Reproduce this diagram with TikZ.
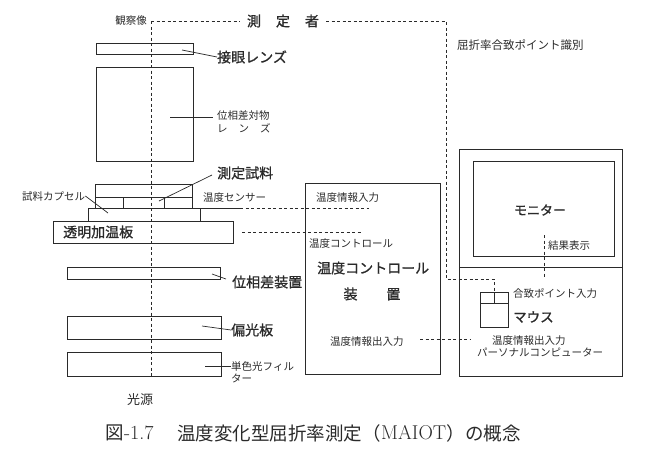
\documentclass[tikz,border=0pt]{standalone}
\usepackage{fontspec}
\newfontfamily\jp{Noto Sans CJK JP}
\newfontfamily\jpm[FakeBold=1.1]{Noto Sans CJK JP}
\definecolor{ink}{HTML}{2A2A2A}
\tikzset{
 box/.style={draw=ink, line width=0.8pt},
 dline/.style={draw=ink, line width=0.8pt, dash pattern=on 3pt off 2.5pt},
 lead/.style={draw=ink, line width=0.7pt},
 sm/.style={font=\jp\fontsize{10.5}{12}\selectfont, text=ink, inner sep=0pt, anchor=west},
 bg/.style={font=\jpm\fontsize{14}{16}\selectfont, text=ink, inner sep=0pt, anchor=west},
 captext/.style={font=\fontsize{20}{22}\selectfont, text=ink, inner sep=0pt, anchor=west},
 capjp/.style={font=\jp\fontsize{18.5}{22}\selectfont, text=ink, inner sep=0pt, anchor=west},
}
\begin{document}
\begin{tikzpicture}[x=1pt,y=-1pt]
\useasboundingbox (0,0) rectangle (650,461);
% optical axis and observer path
\coordinate (axtop) at (151,21);
\coordinate (axbot) at (151,378);
\draw[dline] (axtop) -- (axbot);
\node[sm, anchor=east] (obs) at (147,21) {観察像};
\node[bg, anchor=center, inner xsep=7pt] (observer) at (283,21) {測\hspace{15pt}定\hspace{15pt}者};
\draw[dline] (axtop) -- (observer.west);
\coordinate (c1) at (446,21);
\coordinate (c2) at (446,279);
\coordinate (c3) at (494,279);
\node[sm] (ident) at (457,45) {\fontsize{11.5}{13}\selectfont 屈折率合致ポイント識別};
% eyepiece
\draw[box] (96,43) rectangle (193,54);
\coordinate (eyeL) at (182,50);
\node[bg] (eye) at (217,57) {接眼レンズ};
\draw[lead] (eyeL) -- (eye.west);
% objective
\draw[box] (96,67) rectangle (193,161);
\coordinate (objL) at (170,117);
\node[sm] (obj1) at (217,116) {位相差対物};
\node[sm] (obj2) at (217,128) {レ\hspace{11pt}ン\hspace{11pt}ズ};
\draw[lead] (objL) -- (213,117);
% sample
\node[bg] (sample) at (217,173) {測定試料};
\draw[box] (95,184) rectangle (192,197);
\draw[box] (95,197) rectangle (192,208);
\draw[box] (123,197) -- (123,208) (164,197) -- (164,208);
\coordinate (sampL) at (159,201);
\draw[lead] (sampL) -- (212,175);
\node[sm] (caps) at (22,197) {試料カプセル};
\coordinate (capsL) at (108,213);
\draw[lead] (caps.east) ++(0,-1) -- (capsL);
\draw[box] (88,208) rectangle (200,221);
\node[sm] (sensor) at (203,198) {温度センサー};
\draw[box] (200,208) -- (240,208);
% heating plate
\draw[box] (53,221) rectangle (233,243);
\node[bg] (plate) at (63,232) {透明加温板};
% phase device
\draw[box] (67,267) rectangle (220,279);
\node[bg] (phase) at (232,282) {位相差装置};
\draw[lead] (212,274) -- (226,279);
% polarizer
\draw[box] (67,316) rectangle (221,339);
\node[bg] (pol) at (231,330) {偏光板};
\draw[lead] (202,326) -- (pol.west);
% filter
\draw[box] (67,352) rectangle (221,376);
\node[sm] (filt1) at (231,366) {単色光フィル};
\node[sm] (filt2) at (231,378) {ター};
\draw[lead] (205,366) -- (filt1.west);
\node[sm, anchor=center] (src) at (140,400) {\fontsize{13}{15}\selectfont 光源};
% temperature controller
\draw[box] (305,183) rectangle (440,374);
\node[sm] (tin) at (316,198) {温度情報入力};
\node[sm] (tctl) at (309,244) {温度コントロール};
\node[bg] (tc1) at (317,268) {温度コントロール};
\node[bg, anchor=center] (tc2) at (372,294) {装\hspace{29pt}置};
\node[sm] (tio) at (330,342) {温度情報出入力};
\draw[dline] (240,208) -- (369,208);
\draw[dline] (242,232) -- (362,232);
% PC
\draw[box] (459,149) rectangle (622,376);
\draw[box] (459,267) -- (622,267);
\draw[box] (473,161) rectangle (614,256);
\node[bg, anchor=center] (mon) at (540,210) {\fontsize{13}{15}\selectfont モニター};
\coordinate (resT) at (544,235);
\coordinate (resB) at (544,277);
\draw[dline] (resT) -- (resB);
\node[sm] (res) at (548,246) {結果表示};
\node[sm] (pin) at (513,293) {合致ポイント入力};
\draw[box] (480,292) rectangle (508,327);
\draw[box] (480,303) -- (508,303);
\coordinate (mtop) at (494,292);
\draw[box] (mtop) -- (494,303);
\node[bg] (mouse) at (513,317) {\fontsize{13.5}{15}\selectfont マウス};
\node[sm] (pio) at (492,341) {温度情報出入力};
\node[sm] (pc) at (477,352) {パーソナルコンピューター};
\draw[dline] (420,339) -- (470,339);
\draw[dline] (observer.east) -- (c1) -- (c2) -- (c3) -- (mtop);
% caption
\node[capjp] (cap0) at (105,433) {図};
\node[captext] (cap1) at (cap0.east) {-1.7};
\node[capjp] (cap2) at (177,433) {温度変化型屈折率測定（};
\node[captext] (cap3) at (cap2.east) {MAIOT};
\node[capjp] (cap4) at (cap3.east) {）の概念};
\end{tikzpicture}
\end{document}
